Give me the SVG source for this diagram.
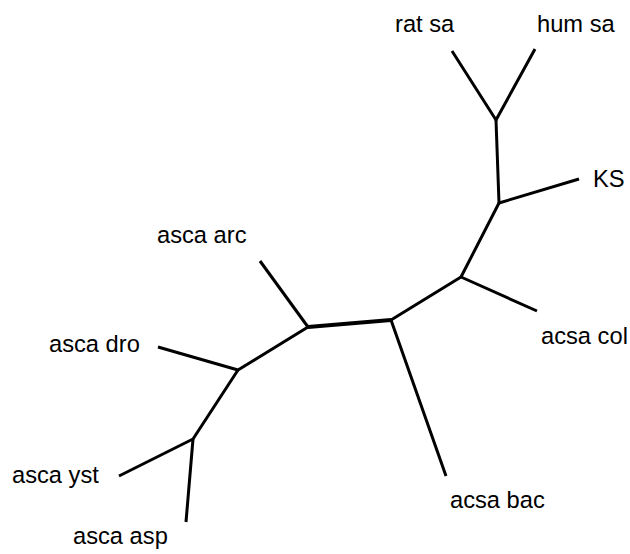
<svg xmlns="http://www.w3.org/2000/svg" width="630" height="554" viewBox="0 0 630 554">
<style>
.e{stroke:#000;stroke-width:3;fill:none;stroke-linecap:butt;stroke-linejoin:round}
.t{font-family:"Liberation Sans",Arial,sans-serif;font-size:23.7px;fill:#000}
</style>
<rect width="630" height="554" fill="#fff"/>
<g id="connectors">
<path class="e" d="M452,51 L496,120 L535,49"/>
<path class="e" d="M496,120 L499,203 L579,179"/>
<path class="e" d="M499,203 L461,277 L537,311"/>
<path class="e" d="M461,277 L391,320 L446,476"/>
<path class="e" d="M391,320 L308,327" style="stroke-width:3.8"/>
<path class="e" d="M308,327 L260,261"/>
<path class="e" d="M308,327 L238,370 L158,347"/>
<path class="e" d="M238,370 L193,439 L119,476"/>
<path class="e" d="M193,439 L186,522"/>
</g>
<g id="rat_sa"><text class="t" x="395" y="32">rat sa</text></g>
<g id="hum_sa"><text class="t" x="537" y="32">hum sa</text></g>
<g id="KS"><text class="t" x="593" y="187">KS</text></g>
<g id="acsa_col"><text class="t" x="541" y="344">acsa col</text></g>
<g id="acsa_bac"><text class="t" x="450" y="508">acsa bac</text></g>
<g id="asca_arc"><text class="t" x="157" y="243">asca arc</text></g>
<g id="asca_dro"><text class="t" x="49" y="352">asca dro</text></g>
<g id="asca_yst"><text class="t" x="12" y="483">asca yst</text></g>
<g id="asca_asp"><text class="t" x="73" y="544">asca asp</text></g>
</svg>
